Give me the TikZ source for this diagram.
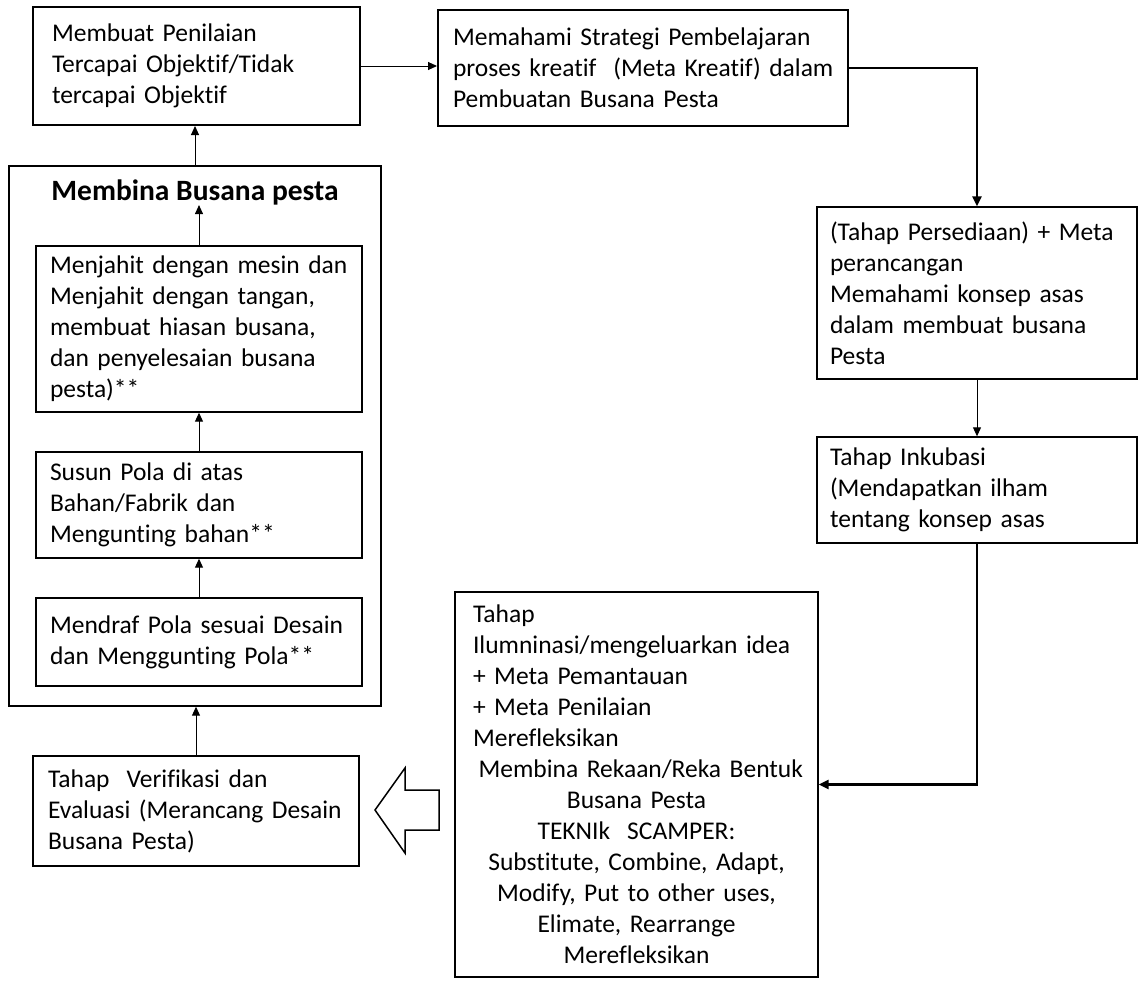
\documentclass[tikz,border=0pt]{standalone}
\usepackage{fontspec}
\setmainfont{Carlito}[Ligatures=NoCommon]
\usetikzlibrary{arrows.meta}
\newcommand{\ctrln}[1]{\makebox[\hsize][c]{#1}}
\begin{document}
\begin{tikzpicture}[x=0.5pt,y=-0.5pt,
  box/.style={draw, line width=0.7pt, align=left, inner ysep=2pt,
    font=\fontsize{12.75pt}{15.5pt}\selectfont},
  boldbox/.style={box, line width=1pt},
  thinarr/.style={line width=0.5pt, -{Triangle[length=4.5pt,width=4pt]}},
  thickarr/.style={line width=1.2pt, -{Triangle[length=5pt,width=4.5pt]}},
  hollow/.style={draw, line width=0.75pt, fill=white}]
\useasboundingbox (0,0) rectangle (1138,980);
\fill[white] (0,0) rectangle (1138,980);

% top row
\node[boldbox, inner xsep=9.5pt, text width=144.5pt, minimum width=163.5pt, minimum height=59pt] (A) at (196.5,66)
  {Membuat Penilaian\\Tercapai Objektif/Tidak\\tercapai Objektif};
\node[boldbox, inner xsep=7.5pt, text width=190pt, minimum width=205pt, minimum height=58pt] (B) at (643,68)
  {Memahami Strategi Pembelajaran\\proses kreatif\ \ (Meta Kreatif) dalam\\Pembuatan Busana Pesta};

% right column
\node[box, inner xsep=6.5pt, text width=147pt, minimum width=160pt, minimum height=86pt] (C) at (977,293)
  {(Tahap Persediaan) + Meta\\perancangan\\Memahami konsep asas\\dalam membuat busana\\Pesta};
\node[box, inner xsep=6.5pt, text width=147pt, minimum width=160pt, minimum height=53pt] (D) at (977,490)
  {Tahap Inkubasi\\(Mendapatkan ilham\\tentang konsep asas};
\node[box, inner xsep=9pt, text width=163.5pt, minimum width=181.5pt, minimum height=192.5pt] (E) at (636.5,784.5)
  {Tahap\\Ilumninasi/mengeluarkan idea\\+ Meta Pemantauan\\+ Meta Penilaian\\Merefleksikan\\
   \ctrln{\ Membina Rekaan/Reka Bentuk}\\\ctrln{Busana Pesta}\\\ctrln{TEKNIk\ \ SCAMPER:}\\
   \ctrln{Substitute, Combine, Adapt,}\\\ctrln{Modify, Put to other uses,}\\
   \ctrln{Elimate, Rearrange}\\\ctrln{Merefleksikan}};

% left column
\node[draw, line width=0.7pt, minimum width=186pt, minimum height=270pt, inner sep=0pt] (bina) at (195,436) {};
\node[inner sep=0pt, font=\fontsize{14.75pt}{18pt}\selectfont\bfseries] (title) at (195,192) {Membina Busana pesta};
\node[box, inner xsep=7pt, text width=149pt, minimum width=163pt, minimum height=83pt] (jahit) at (199,329)
  {Menjahit dengan mesin dan\\Menjahit dengan tangan,\\membuat hiasan busana,\\dan penyelesaian busana\\pesta)**};
\node[box, inner xsep=7pt, text width=149pt, minimum width=163pt, minimum height=53pt] (susun) at (199,505)
  {Susun Pola di atas\\Bahan/Fabrik dan\\Mengunting bahan**};
\node[box, inner xsep=7pt, text width=149pt, minimum width=163pt, minimum height=44pt] (draf) at (199,642)
  {Mendraf Pola sesuai Desain\\dan Menggunting Pola**};
\node[box, inner xsep=7.5pt, text width=148pt, minimum width=163pt, minimum height=55pt] (verif) at (196,811)
  {Tahap\ \ Verifikasi dan\\Evaluasi (Merancang Desain\\Busana Pesta)};

% connectors
\draw[thinarr] (A.east) -- (A.east -| B.west);
\draw[thickarr] (B.east) -| (C.north);
\draw[thinarr] (C.south) -- (D.north);
\draw[thickarr] (D.south) |- (E.east);
\draw[thinarr] (bina.north) -- (bina.north |- A.south);
\draw[thinarr] (jahit.north) -- (jahit.north |- title.south);
\draw[thinarr] (susun.north) -- (jahit.south);
\draw[thinarr] (draf.north) -- (susun.south);
\draw[thinarr] (verif.north) -- (verif.north |- bina.south);

% hollow block arrow
\draw[hollow] (375,810) -- (405,768) -- (405,790) -- (439,790) -- (439,830) -- (405,830) -- (405,853) -- cycle;
\end{tikzpicture}
\end{document}
